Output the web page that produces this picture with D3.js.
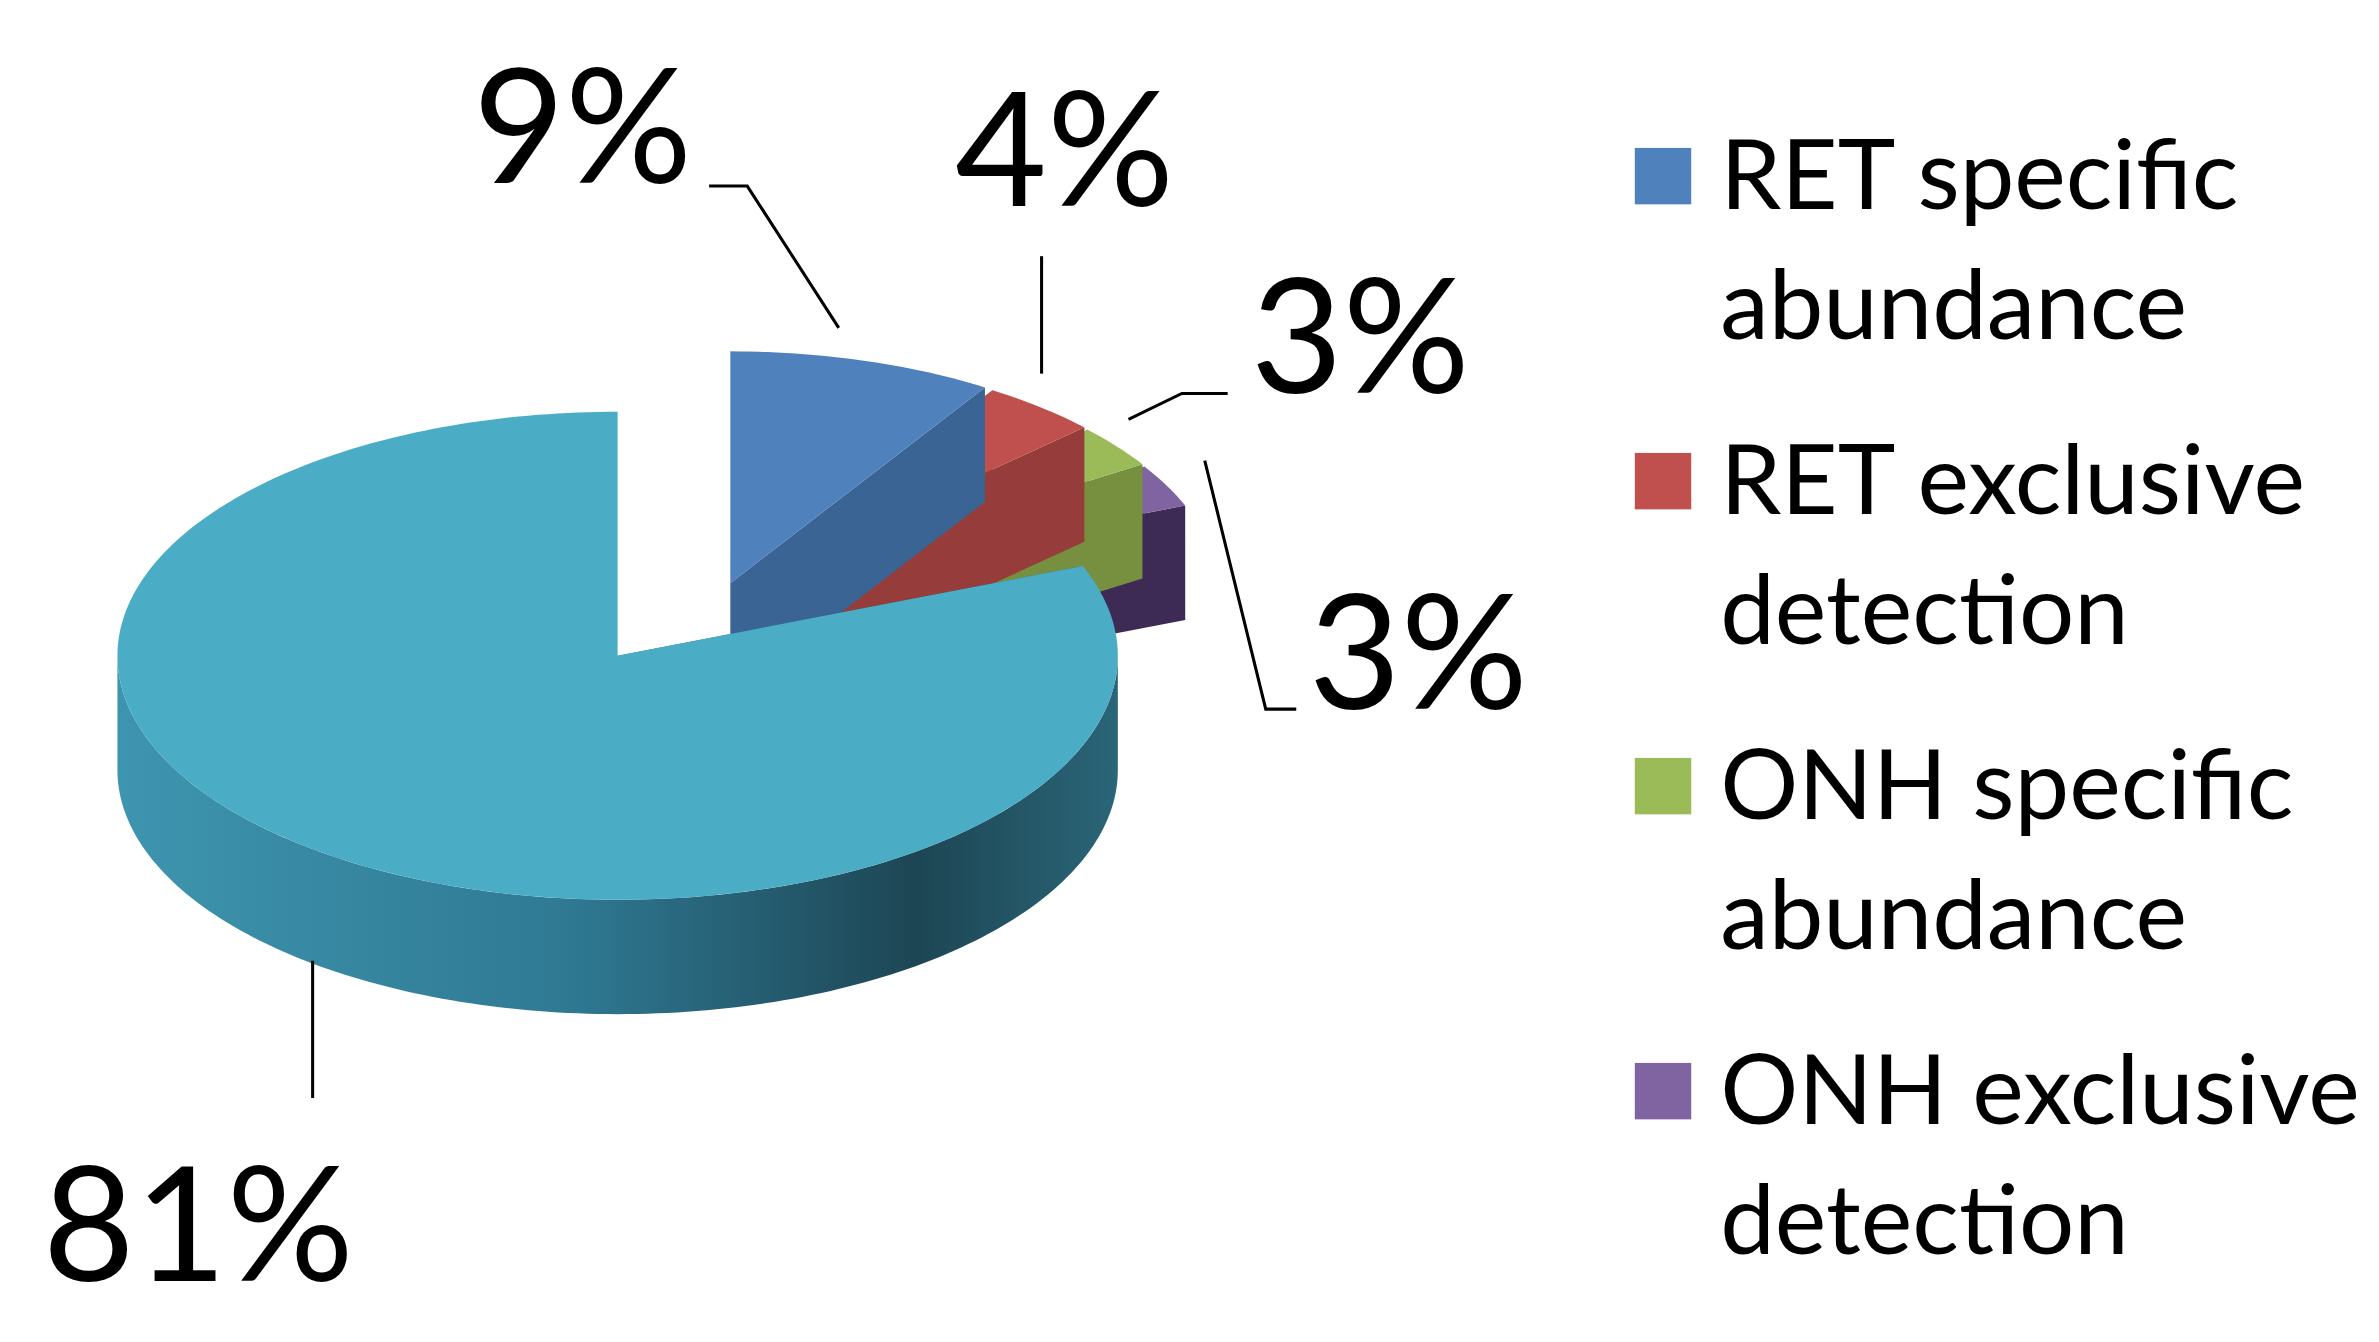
<!DOCTYPE html>
<html><head><meta charset="utf-8">
<script src="https://cdn.jsdelivr.net/npm/d3@7"></script>
<style>html,body{margin:0;background:#fff}</style></head>
<body><svg id="c" width="2379" height="1342" viewBox="0 0 1560 880"></svg>
<script>
// chart data
const categories = ["RET specific abundance", "RET exclusive detection", "ONH specific abundance", "ONH exclusive detection", "Other"];
const values = [9, 4, 3, 3, 81];
const labels = ["9%", "4%", "3%", "3%", "81%"];
const topColors = ["#4f81bd", "#c0504d", "#9bbb59", "#8064a2", "#4bacc6"];
const sideColors = ["#3a6494", "#963c3a", "#76903f", "#3d2a55", "#2c6f84"];

const svg = d3.select("#c");
const cx = 405, cy = 430, rx = 328, ry = 160, depth = 75;
const shift = [70, -38];

const arcs = d3.pie().sort(null).value(d => d)(values);
const pt = (a, dx, dy, k = 1) => [cx + dx + rx * k * Math.sin(a), cy + dy - ry * k * Math.cos(a)];
const line = d3.line();

// gradient for the big slice wall
const defs = svg.append("defs");
const g = defs.append("linearGradient").attr("id", "wall").attr("x1", 0).attr("x2", 1);
g.append("stop").attr("offset", "0").attr("stop-color", "#3e95af");
g.append("stop").attr("offset", "0.45").attr("stop-color", "#2f7993");
g.append("stop").attr("offset", "0.8").attr("stop-color", "#1d4654");
g.append("stop").attr("offset", "1").attr("stop-color", "#2a6578");

function sample(a0, a1, dx, dy, yo, k) {
  const n = Math.max(2, Math.ceil((a1 - a0) / 0.02));
  return d3.range(n + 1).map(i => { const p = pt(a0 + (a1 - a0) * i / n, dx, dy, k); return [p[0], p[1] + yo]; });
}

function drawSlice(d, i) {
  const small = i < 4;
  const mid = (d.startAngle + d.endAngle) / 2;
  const dx = small ? shift[0] + 14 * Math.sin(mid) : 0;
  const dy = small ? shift[1] - 10 * Math.cos(mid) : 0;
  const k = small ? 0.95 : 1;
  const grp = svg.append("g");
  const c = [cx + dx, cy + dy];
  // cut faces
  [d.startAngle, d.endAngle].forEach(a => {
    const p = pt(a, dx, dy, k);
    grp.append("path").attr("d", line([c, p, [p[0], p[1] + depth], [c[0], c[1] + depth]]) + "Z")
      .attr("fill", sideColors[i]);
  });
  // outer wall (front half only)
  const w0 = Math.max(d.startAngle, Math.PI / 2), w1 = Math.min(d.endAngle, 1.5 * Math.PI);
  if (w1 > w0) {
    const topE = sample(w0, w1, dx, dy, 0, k), botE = sample(w0, w1, dx, dy, depth, k).reverse();
    grp.append("path").attr("d", line(topE.concat(botE)) + "Z")
      .attr("fill", small ? sideColors[i] : "url(#wall)");
  }
  // top face
  grp.append("path").attr("d", line([c].concat(sample(d.startAngle, d.endAngle, dx, dy, 0, k))) + "Z")
    .attr("fill", topColors[i]);
}
[3, 2, 1, 0, 4].forEach(i => drawSlice(arcs[i], i));

// data labels with leader lines
const labelPos = [[382, 120], [698, 135], [892, 258], [930, 465], [130, 840]];
const leaders = [
  [[465, 122], [490, 122], [550, 215]],
  [[683, 168], [683, 245]],
  [[805, 258], [775, 258], [740, 275]],
  [[850, 465], [830, 465], [790, 302]],
  [[205, 630], [205, 720]]
];
svg.append("g").selectAll("path").data(leaders).join("path")
  .attr("d", d => line(d)).attr("fill", "none").attr("stroke", "#000").attr("stroke-width", 2);
svg.append("g").selectAll("text").data(labels).join("text")
  .attr("x", (d, i) => labelPos[i][0]).attr("y", (d, i) => labelPos[i][1])
  .attr("text-anchor", "middle").attr("font-family", "Lato, 'Open Sans', sans-serif")
  .attr("font-size", 104).attr("fill", "#000").text(d => d);

// legend
const leg = svg.append("g").selectAll("g").data(categories.slice(0, 4)).join("g")
  .attr("transform", (d, i) => `translate(1072,${97 + i * 200})`);
leg.append("rect").attr("width", 37).attr("height", 37).attr("fill", (d, i) => topColors[i]);
leg.append("text").attr("font-family", "Lato, 'Open Sans', sans-serif").attr("font-size", 64).attr("fill", "#000")
  .selectAll("tspan").data(d => { const w = d.split(" "); return [w.slice(0, 2).join(" "), w.slice(2).join(" ")]; })
  .join("tspan").attr("x", 56).attr("y", (d, j) => 40 + j * 85).text(d => d);
</script></body></html>
